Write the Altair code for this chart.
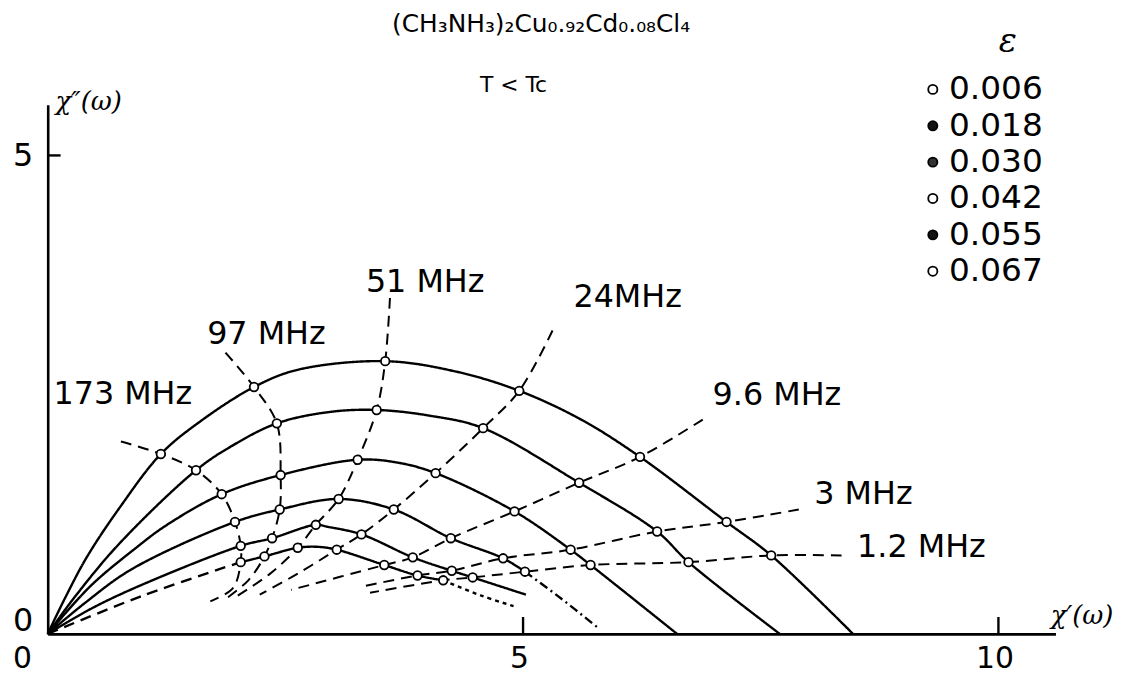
import altair as alt
import pandas as pd

# ---------------- text ----------------
title_text = "(CH₃NH₃)₂Cu₀.₉₂Cd₀.₀₈Cl₄"
cond_text = "T < Tc"
eps_title = "ε"
eps_labels = ["0.006", "0.018", "0.030", "0.042", "0.055", "0.067"]
eps_fill = ["white", "#111111", "#333333", "white", "#111111", "white"]
freq_labels = ["173 MHz", "97 MHz", "51 MHz", "24MHz", "9.6 MHz", "3 MHz", "1.2 MHz"]
x_ticks = [5, 10]
y_ticks = [5]

# ------------- measured points (columns follow freq_labels) -------------
p1_x = [1.19, 2.17, 3.55, 4.96, 6.23, 7.14, 7.61]
p1_y = [1.88, 2.58, 2.85, 2.54, 1.85, 1.17, 0.82]
p2_x = [1.56, 2.41, 3.46, 4.58, 5.59, 6.41, 6.74]
p2_y = [1.71, 2.20, 2.34, 2.15, 1.58, 1.07, 0.75]
p3_x = [1.83, 2.45, 3.26, 4.08, 4.91, 5.50, 5.71]
p3_y = [1.46, 1.66, 1.82, 1.68, 1.28, 0.88, 0.72]
p4_x = [1.97, 2.44, 3.06, 3.64, 4.24, 4.79, 5.02]
p4_y = [1.17, 1.30, 1.41, 1.30, 1.00, 0.79, 0.65]
p5_x = [2.03, 2.36, 2.82, 3.30, 3.84, 4.25, 4.47]
p5_y = [0.92, 1.00, 1.14, 1.04, 0.80, 0.66, 0.59]
p6_x = [2.03, 2.28, 2.63, 3.04, 3.54, 3.89, 4.16]
p6_y = [0.75, 0.81, 0.90, 0.88, 0.72, 0.61, 0.56]

# ------------- hand-drawn arcs (one per epsilon) -------------
arc1_x = [0, 0.18, 0.41, 0.75, 1.19, 1.59, 2.17, 2.63, 3.55, 4.30, 4.96, 5.61, 6.23, 7.14, 7.61, 8.47]
arc1_y = [0, 0.37, 0.80, 1.31, 1.88, 2.21, 2.58, 2.76, 2.85, 2.74, 2.54, 2.24, 1.85, 1.17, 0.82, 0]
arc2_x = [0, 0.28, 0.75, 1.56, 1.93, 2.41, 2.97, 3.46, 4.02, 4.58, 5.59, 6.41, 6.74, 7.70]
arc2_y = [0, 0.38, 0.94, 1.71, 1.96, 2.20, 2.32, 2.34, 2.28, 2.15, 1.58, 1.07, 0.75, 0]
arc3_x = [0, 0.45, 0.93, 1.24, 1.83, 2.45, 3.26, 3.68, 4.08, 4.91, 5.50, 5.71, 6.62]
arc3_y = [0, 0.50, 0.90, 1.13, 1.46, 1.66, 1.82, 1.79, 1.68, 1.28, 0.88, 0.72, 0]
arc4_x = [0, 0.40, 0.89, 1.97, 2.44, 3.06, 3.64, 4.24, 4.79, 5.02]
arc4_y = [0, 0.33, 0.68, 1.17, 1.30, 1.41, 1.30, 1.00, 0.79, 0.65]
arc4_tail_x = [5.02, 5.40, 5.78]
arc4_tail_y = [0.65, 0.37, 0.07]
arc5_x = [0, 0.45, 0.96, 2.03, 2.36, 2.82, 2.94, 3.30, 3.84, 4.25, 4.47, 5.03]
arc5_y = [0, 0.26, 0.50, 0.92, 1.00, 1.14, 1.12, 1.04, 0.80, 0.66, 0.59, 0.41]
arc6_head_x = [0, 1.0, 2.03]
arc6_head_y = [0, 0.40, 0.75]
arc6_x = [2.03, 2.28, 2.63, 2.84, 3.04, 3.54, 3.89, 4.16]
arc6_y = [0.75, 0.81, 0.90, 0.91, 0.88, 0.72, 0.61, 0.56]
arc6_tail_x = [4.16, 4.56, 4.90]
arc6_tail_y = [0.56, 0.40, 0.29]

# ------------- iso-frequency dashed lines: start and tail points -------------
f_start_x = [0.77, 1.87, 3.60, 5.31, 6.89, 7.90, 8.35]
f_start_y = [2.01, 2.94, 3.51, 3.17, 2.24, 1.30, 0.82]
f_tail_x = [[1.95, 1.71], [2.11, 1.85], [2.34, 1.95], [2.63, 2.23], [2.56], [3.33], [3.39]]
f_tail_y = [[0.48, 0.34], [0.56, 0.35], [0.63, 0.37], [0.63, 0.41], [0.46], [0.50], [0.43]]

# ------------- annotation anchors (data units) -------------
lab_x = [0.79, 2.30, 3.97, 6.10, 7.67, 8.58, 9.19]
lab_y = [2.51, 3.13, 3.68, 3.52, 2.50, 1.46, 0.91]

# ================= build tables =================
pts_x = [p1_x, p2_x, p3_x, p4_x, p5_x, p6_x]
pts_y = [p1_y, p2_y, p3_y, p4_y, p5_y, p6_y]

segments = [
    ("a1", "solid", arc1_x, arc1_y),
    ("a2", "solid", arc2_x, arc2_y),
    ("a3", "solid", arc3_x, arc3_y),
    ("a4", "solid", arc4_x, arc4_y),
    ("a4t", "dashdot", arc4_tail_x, arc4_tail_y),
    ("a5", "solid", arc5_x, arc5_y),
    ("a6h", "dash", arc6_head_x, arc6_head_y),
    ("a6", "solid", arc6_x, arc6_y),
    ("a6t", "dot", arc6_tail_x, arc6_tail_y),
]
arc_rows = []
for seg, style, xs, ys in segments:
    for i, (x, y) in enumerate(zip(xs, ys)):
        arc_rows.append(dict(seg=seg, style=style, i=i, x=x, y=y))
arc_df = pd.DataFrame(arc_rows)

freq_rows = []
for j, f in enumerate(freq_labels):
    xs = [f_start_x[j]] + [pts_x[k][j] for k in range(6)] + f_tail_x[j]
    ys = [f_start_y[j]] + [pts_y[k][j] for k in range(6)] + f_tail_y[j]
    for i, (x, y) in enumerate(zip(xs, ys)):
        freq_rows.append(dict(seg=f, i=i, x=x, y=y))
freq_df = pd.DataFrame(freq_rows)

pt_rows = []
for k in range(6):
    for j in range(7):
        pt_rows.append(dict(eps=eps_labels[k], freq=freq_labels[j], x=pts_x[k][j], y=pts_y[k][j]))
pt_df = pd.DataFrame(pt_rows)

lab_df = pd.DataFrame(dict(t=freq_labels, x=lab_x, y=lab_y))
leg_df = pd.DataFrame(dict(t=eps_labels, fill=eps_fill, row=list(range(len(eps_labels)))))

xs_ = alt.Scale(domain=[0, 10.6], nice=False, zero=False)
ys_ = alt.Scale(domain=[0, 5.53], nice=False, zero=False)
FONT = "DejaVu Sans"

xaxis = alt.Axis(values=[0, 5, 10], title=None, grid=False, ticks=False,
                 domainColor="black", domainWidth=2.6, labelFontSize=30,
                 labelFont=FONT, labelColor="black", labelPadding=10,
                 labelFlush=False, labelOverlap=False,
                 labelOffset={"condition": {"test": "datum.value == 0", "value": -26}, "value": -4})
yaxis = alt.Axis(values=[0, 5], title=None, grid=False, ticks=False,
                 domainColor="black", domainWidth=2.6, labelFontSize=32,
                 labelFont=FONT, labelColor="black", labelPadding=15,
                 labelOverlap=False,
                 labelOffset={"condition": {"test": "datum.value == 0", "value": -13}, "value": 0})


def X(f="x"):
    return alt.X(f, type="quantitative", scale=xs_, axis=xaxis)


def Y(f="y"):
    return alt.Y(f, type="quantitative", scale=ys_, axis=yaxis)


dash_scale = alt.Scale(domain=["solid", "dash", "dashdot", "dot"],
                       range=[[1, 0], [11, 7], [9, 4, 2, 4], [4, 4]])

arcs = alt.Chart(arc_df).mark_line(interpolate="catmull-rom", color="black", strokeWidth=2.4).encode(
    x=X(), y=Y(), detail="seg:N", order="i:Q",
    strokeDash=alt.StrokeDash("style:N", scale=dash_scale, legend=None))

freqs = alt.Chart(freq_df).mark_line(interpolate="catmull-rom", color="black", strokeWidth=2.0,
                                     strokeDash=[11, 7]).encode(
    x=X(), y=Y(), detail="seg:N", order="i:Q")

points = alt.Chart(pt_df).mark_point(shape="circle", filled=True, fill="white", stroke="black",
                                     strokeWidth=1.8, size=75, opacity=1).encode(x=X(), y=Y())

labels = alt.Chart(lab_df).mark_text(font=FONT, fontSize=32, color="black",
                                     align="center", baseline="middle").encode(x=X(), y=Y(), text="t:N")

xt = alt.Chart(pd.DataFrame(dict(v=x_ticks))).mark_rule(color="black", strokeWidth=2.4).encode(
    x=X("v"), y=alt.value(533), y2=alt.value(516))
yt = alt.Chart(pd.DataFrame(dict(v=y_ticks))).mark_rule(color="black", strokeWidth=2.4).encode(
    y=Y("v"), x=alt.value(0), x2=alt.value(13))

title = alt.Chart(pd.DataFrame(dict(t=[title_text], x=[5.19], y=[6.37]))).mark_text(
    font=FONT, fontSize=25, color="black", align="center", baseline="middle").encode(x=X(), y=Y(), text="t:N")
cond = alt.Chart(pd.DataFrame(dict(t=[cond_text], x=[4.90], y=[5.74]))).mark_text(
    font=FONT, fontSize=22, color="black", align="center", baseline="middle").encode(x=X(), y=Y(), text="t:N")
epsh = alt.Chart(pd.DataFrame(dict(t=[eps_title], x=[10.10], y=[6.18]))).mark_text(
    font="DejaVu Serif", fontStyle="italic", fontSize=34, color="black", align="center",
    baseline="middle").encode(x=X(), y=Y(), text="t:N")

axt = alt.Chart(pd.DataFrame(dict(t=["χ″(ω)", "χ′(ω)"], x=[0.43, 10.88], y=[5.56, 0.19]))).mark_text(
    font="DejaVu Serif", fontStyle="italic", fontSize=26, color="black", align="center",
    baseline="middle").encode(x=X(), y=Y(), text="t:N")

leg_base = alt.Chart(leg_df).transform_calculate(ly="5.69 - 0.38*datum.row")
leg_pts = leg_base.transform_calculate(lx="9.31").mark_point(
    shape="circle", filled=True, stroke="black", strokeWidth=1.8, size=85, opacity=1).encode(
    x=X("lx:Q"), y=Y("ly:Q"), fill=alt.Fill("fill:N", scale=None))
leg_txt = leg_base.transform_calculate(lx="9.48").mark_text(
    font=FONT, fontSize=33, color="black", align="left", baseline="middle").encode(
    x=X("lx:Q"), y=Y("ly:Q"), text="t:N")

chart = alt.layer(arcs, freqs, points, labels, xt, yt, title, cond, epsh, axt, leg_pts, leg_txt).properties(
    width=1015, height=533,
    padding={"left": 40, "top": 95, "right": 64, "bottom": 41},
    autosize=alt.AutoSizeParams(type="none"),
    background="white",
).configure_view(stroke=None)

chart.save("out.html", embed_options={"renderer": "svg", "actions": False})
